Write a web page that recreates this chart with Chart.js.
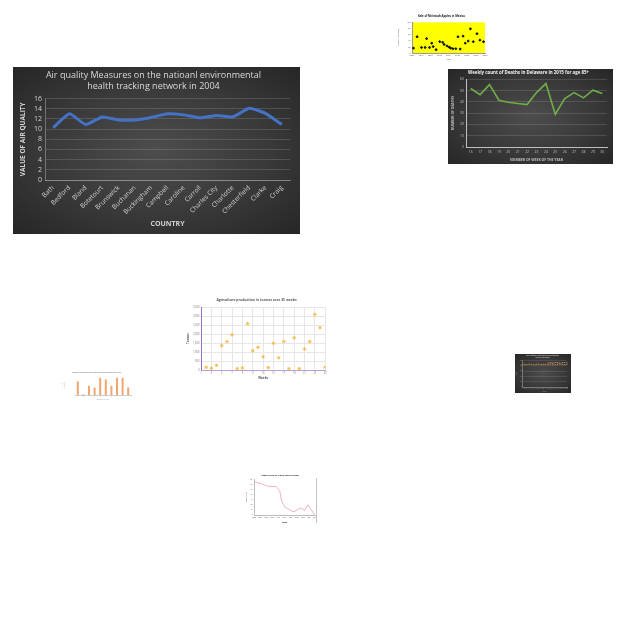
<!DOCTYPE html>
<html><head><meta charset="utf-8">
<script src="https://cdn.jsdelivr.net/npm/chart.js@4"></script>
<style>
html,body{margin:0;padding:0;background:#fff;width:640px;height:640px;overflow:hidden;}
.p{position:absolute;}
.dark{background:radial-gradient(ellipse at center,#4d4d4d 0%,#393939 55%,#262626 100%);}
canvas{display:block;}
</style></head><body>
<script>
// ---------- DATA ----------
// Main chart: Air quality
const aqCategories = ["Bath","Bedford","Bland","Botetourt","Brunswick","Buchanan","Buckingham","Campbell","Caroline","Carroll","Charles City","Charlotte","Chesterfield","Clarke","Craig"];
const aqValues = [10.3,13.0,10.9,12.4,11.8,11.8,12.3,13.0,12.8,12.2,12.7,12.4,14.1,13.1,10.9];
const aqTicks = [0,2,4,6,8,10,12,14,16];

// Delaware deaths
const deWeeks = ["16","17","18","19","20","21","22","23","24","25","26","27","28","29","30"];
const deDeaths = [51.8,46.4,55.3,41.4,39.6,38.5,37.6,48.2,56.2,29.0,42.9,48.2,43.5,50.3,47.3];

// Apple sales scatter
const appleX = [2,7,13,18,20,24,27,29,33,38,42,44,48,51,53,56,60,63,66,70,73,77,80,84,89,93,98];
const appleY = [16,53,18,18,47,18,32,21,11,37,35,28,23,19,16,14,14,53,13,55,32,39,79,37,63,42,37];

// Agriculture production
const agWeeks = [2,3,4,5,6,7,8,9,10,11,12,13,14,15,16,17,18,19,20,21,22,23,24,25];
const agTonnes = [150,94,263,1355,1581,1957,75,113,2578,1073,1261,734,132,1487,677,1581,75,1788,75,1167,1581,3086,2352,150];

// Small bar chart
const barCats = ["A","B","C","D","E","F","G","H","I","J"];
const barVals = [40,2,27,22,50,45,27,50,50,22];

// Small dark chart
const dkX = ["1","2","3","4","5","6","7","8","9","10","11","12","13","14","15","16","17","18","19","20"];
const dkA = [84,85,84,86,85,84,85,86,84,85,85,84,86,85,84,85,86,85,84,85];
const dkB = [null,null,null,null,null,null,null,null,null,null,null,90,91,90,92,91,90,91,92,91];

// Pink line chart
const pkX = [0,8,15,21,29,38,44,47,53,62,68,74,80,86,92,98,104];
const pkY = [98,95,91,86,84,84,70,42,23,14,9,16,21,14,30,14,0];
</script>
<script>
Chart.defaults.animation = false;
Chart.defaults.responsive = false;
Chart.defaults.devicePixelRatio = 1;
Chart.defaults.plugins.legend.display = false;
Chart.defaults.plugins.tooltip.enabled = false;
Chart.defaults.font.family = "'Open Sans', 'DejaVu Sans', sans-serif";

function place(x,y,w,h,cls){
  const d=document.createElement('div');
  d.className='p '+(cls||'');
  d.style.left=x+'px';d.style.top=y+'px';d.style.width=w+'px';d.style.height=h+'px';
  const c=document.createElement('canvas');c.width=w;c.height=h;
  d.appendChild(c);document.body.appendChild(d);
  return c;
}
const fitW = w => (s)=>{s.width=w;};
const fitH = h => (s)=>{s.height=h;};
const areaFill = {
  id:'areaFill',
  beforeDraw(chart,args,opts){
    if(!opts.color) return;
    const a=chart.chartArea,ctx=chart.ctx;
    ctx.save();ctx.fillStyle=opts.color;ctx.fillRect(a.left,a.top,a.right-a.left,a.bottom-a.top);ctx.restore();
  }
};
Chart.register(areaFill);

// ---------- Main chart ----------
new Chart(place(13,67,287,167,'dark'),{
  type:'line',
  data:{labels:aqCategories,datasets:[{data:aqValues,borderColor:'#4472C4',borderWidth:3,pointRadius:0,tension:0.15,borderJoinStyle:'round'}]},
  options:{
    layout:{padding:{left:4,right:10,top:0,bottom:4}},
    plugins:{title:{display:true,text:['Air quality Measures on the natioanl environmental','health tracking network in 2004'],
      color:'#d9d9d9',font:{size:9,weight:'normal'},padding:{top:3,bottom:7},lineHeight:1.2}},
    scales:{
      x:{offset:true,grid:{display:false,drawTicks:false},border:{color:'rgba(255,255,255,0.3)'},
        ticks:{color:'#d0d0d0',font:{size:6.5},minRotation:45,maxRotation:45,autoSkip:false,padding:4},
        title:{display:true,text:'COUNTRY',color:'#d0d0d0',font:{size:7,weight:'bold'},padding:{top:0,bottom:2}},
        afterFit:fitH(50)},
      y:{min:0,max:16,afterBuildTicks:(s)=>{s.ticks=aqTicks.map(v=>({value:v}));},
        grid:{color:'rgba(255,255,255,0.14)',drawTicks:false},border:{display:true,color:'rgba(255,255,255,0.3)'},
        ticks:{color:'#d0d0d0',font:{size:7},padding:3,autoSkip:false},
        title:{display:true,text:'VALUE OF AIR QUALITY',color:'#d0d0d0',font:{size:6.5,weight:'bold'},padding:{top:2,bottom:2}},
        afterFit:fitW(28)}
    }
  }
});

// ---------- Delaware deaths ----------
new Chart(place(448,69,165,95,'dark'),{
  type:'line',
  data:{labels:deWeeks,datasets:[{data:deDeaths,borderColor:'#70AD47',borderWidth:1.6,pointRadius:0,tension:0}]},
  options:{
    layout:{padding:{left:2,right:6,top:0,bottom:1}},
    plugins:{title:{display:true,text:'Weekly count of Deaths in Delaware in 2015 for age 85+',color:'#f2f2f2',font:{size:4.4,weight:'bold'},padding:{top:1.5,bottom:3.5}}},
    scales:{
      x:{offset:true,grid:{display:false,drawTicks:false},border:{color:'#bfbfbf'},
        ticks:{color:'#bfbfbf',font:{size:3.4},maxRotation:0,autoSkip:false,padding:3},
        title:{display:true,text:'NUMBER OF WEEK OF THE YEAR',color:'#bfbfbf',font:{size:3.4,weight:'bold'},padding:{top:1,bottom:1}},
        afterFit:fitH(16)},
      y:{min:0,max:60,ticks:{stepSize:10,color:'#bfbfbf',font:{size:3.4},padding:2,autoSkip:false},
        grid:{color:'rgba(255,255,255,0.13)',drawTicks:false},border:{color:'#bfbfbf'},
        title:{display:true,text:'NUMBER OF DEATHS',color:'#bfbfbf',font:{size:3.4,weight:'bold'},padding:{top:1,bottom:1}},
        afterFit:fitW(16)}
    }
  }
});

// ---------- Apple scatter ----------
new Chart(place(395,12,95,50),{
  type:'scatter',
  data:{datasets:[{data:appleX.map((x,i)=>({x:x,y:appleY[i]})),backgroundColor:'#111',borderColor:'#111',pointRadius:0.9}]},
  options:{
    layout:{padding:{left:1,right:3,top:0,bottom:1}},
    plugins:{areaFill:{color:'#FFFF00'},title:{display:true,text:'Sale of Mcintosh Apples in Mexico',color:'#222',font:{size:2.8,weight:'bold'},padding:{top:2.5,bottom:4.5}}},
    scales:{
      x:{min:0,max:100,grid:{display:false,drawTicks:false},border:{color:'#999'},ticks:{stepSize:12.5,color:'#666',font:{size:2.2},padding:1.5,autoSkip:false,minRotation:0,maxRotation:0,callback:(v)=>String(2000+Math.round(v/12.5))},
        title:{display:true,text:'Year',color:'#444',font:{size:2.2},padding:0},afterFit:fitH(8)},
      y:{min:0,max:100,grid:{display:false,drawTicks:false},border:{color:'#999'},ticks:{stepSize:20,color:'#666',font:{size:2.2},padding:1.5,autoSkip:false},
        title:{display:true,text:'Sales (in tonnes)',color:'#444',font:{size:2.2},padding:1},afterFit:fitW(16)}
    }
  }
});

// ---------- Agriculture scatter ----------
new Chart(place(185,296,145,85),{
  type:'scatter',
  data:{datasets:[{data:agWeeks.map((x,i)=>({x:x,y:agTonnes[i]})),backgroundColor:'#FFD966',borderColor:'#F4B942',pointStyle:'star',pointRadius:1.8,borderWidth:0.8}]},
  options:{
    layout:{padding:{left:1,right:3,top:0,bottom:1}},
    plugins:{title:{display:true,text:'Agriculture production in tonnes over 25 weeks',color:'#595959',font:{size:3.4,weight:'bold'},padding:{top:2,bottom:5}}},
    scales:{
      x:{min:1,max:25,grid:{color:'#e6e6e6',drawTicks:false},border:{color:'#b9a0d6'},ticks:{stepSize:2,color:'#777',font:{size:2.6},padding:1.5,autoSkip:false,minRotation:0,maxRotation:0},
        title:{display:true,text:'Weeks',color:'#555',font:{size:3,weight:'bold'},padding:{top:1,bottom:0}},afterFit:fitH(10)},
      y:{min:0,max:3500,grid:{color:'#e6e6e6',drawTicks:false},border:{color:'#9b6fcf',width:1},ticks:{stepSize:500,color:'#777',font:{size:2.6},padding:1.5,autoSkip:false},
        title:{display:true,text:'Tonnes',color:'#555',font:{size:3,weight:'bold'},padding:{top:0,bottom:1}},afterFit:fitW(15)}
    }
  }
});

// ---------- Small bar chart ----------
new Chart(place(62,368,72,33),{
  type:'bar',
  data:{labels:barCats,datasets:[{data:barVals,backgroundColor:'#F1A46C',barPercentage:0.35,categoryPercentage:1}]},
  options:{
    layout:{padding:{left:0,right:3,top:0,bottom:0}},
    plugins:{title:{display:true,text:'Number of people working in different sectors of a city',color:'#888',font:{size:1.8},padding:{top:3,bottom:3}}},
    scales:{
      x:{grid:{display:false,drawTicks:false},border:{color:'#ccc'},ticks:{color:'#aaa',font:{size:1.6},padding:0.8,minRotation:0,maxRotation:0,autoSkip:false},
        title:{display:true,text:'Sectors of the city',color:'#999',font:{size:1.6},padding:0},afterFit:fitH(6)},
      y:{min:0,max:55,grid:{display:false,drawTicks:false},border:{display:false},ticks:{display:false},
        title:{display:true,text:['Number','of people'],color:'#999',font:{size:1.6},padding:0},afterFit:fitW(13)}
    }
  }
});

// ---------- Small dark chart ----------
new Chart(place(515,354,56,39,'dark'),{
  type:'line',
  data:{labels:dkX,datasets:[
    {data:dkA,borderColor:'#C07A3A',borderWidth:0.6,borderDash:[0.8,0.8],pointRadius:0.6,pointBackgroundColor:'#D08A45',pointBorderWidth:0},
    {data:dkB,borderColor:'#C9A27A',borderWidth:0.5,borderDash:[0.8,0.8],pointRadius:0.5,pointBackgroundColor:'#D9B890',pointBorderWidth:0}
  ]},
  options:{
    layout:{padding:{left:1,right:2,top:0,bottom:1}},
    plugins:{title:{display:true,text:['Age-adjusted death rate for heart disease','in the US by state'],color:'#bbb',font:{size:1.6},padding:{top:1,bottom:1.5},lineHeight:1.1}},
    scales:{
      x:{grid:{display:false,drawTicks:false},border:{color:'#777'},ticks:{color:'#999',font:{size:1.4},padding:0.8,minRotation:0,maxRotation:0,autoSkip:false},
        title:{display:true,text:'State',color:'#999',font:{size:1.5},padding:0},afterFit:fitH(5)},
      y:{min:0,max:100,grid:{color:'rgba(255,255,255,0.1)',drawTicks:false},border:{color:'#777'},ticks:{stepSize:20,color:'#999',font:{size:1.4},padding:0.5,autoSkip:false},
        title:{display:true,text:'Rate',color:'#999',font:{size:1.5},padding:0},afterFit:fitW(6)}
    }
  }
});

// ---------- Pink line chart ----------
const rightBorder={id:'rightBorder',afterDraw(chart){const a=chart.chartArea,ctx=chart.ctx;ctx.save();ctx.strokeStyle='#b5b5b5';ctx.lineWidth=0.8;ctx.beginPath();ctx.moveTo(a.right+1.5,a.top-1);ctx.lineTo(a.right+1.5,chart.height-1);ctx.stroke();ctx.restore();}};
new Chart(place(245,471,74,53),{
  type:'scatter',
  data:{datasets:[{data:pkX.map((x,i)=>({x:x,y:pkY[i]})),showLine:true,borderColor:'#F2A7B8',borderWidth:0.9,pointRadius:0,tension:0}]},
  plugins:[rightBorder],
  options:{
    layout:{padding:{left:0,right:4,top:0,bottom:0}},
    plugins:{title:{display:true,text:'Stock price of Coca Cola in 2008',color:'#222',font:{size:2.4,weight:'bold'},padding:{top:3,bottom:2.5}}},
    scales:{
      x:{min:0,max:104,grid:{display:false,drawTicks:false},border:{color:'#bbb'},ticks:{stepSize:10.4,color:'#666',font:{size:1.7},padding:1.5,autoSkip:false,minRotation:0,maxRotation:0,callback:(v,i)=>String(2000+i)},
        title:{display:true,text:'Years',color:'#222',font:{size:2,weight:'bold'},padding:0},afterFit:fitH(9)},
      y:{min:0,max:105,grid:{display:false,drawTicks:false},border:{color:'#bbb'},ticks:{stepSize:15,color:'#666',font:{size:1.7},padding:1.5,autoSkip:false},
        title:{display:true,text:'Stock price',color:'#222',font:{size:1.9},padding:0.5},afterFit:fitW(9)}
    }
  }
});
</script>
</body></html>
